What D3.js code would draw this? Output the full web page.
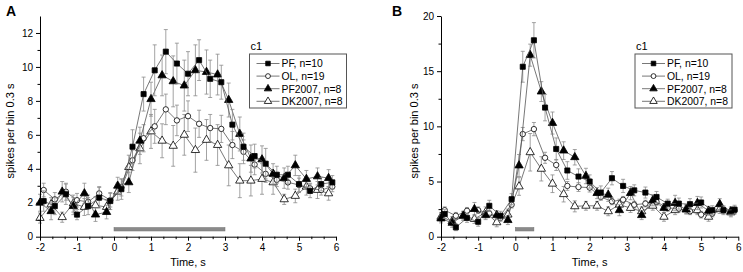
<!DOCTYPE html>
<html>
<head>
<meta charset="utf-8">
<script src="https://cdn.jsdelivr.net/npm/d3@7"></script>
<style>
  body { margin: 0; background: #fff; }
  svg { display: block; font-family: "Liberation Sans", Arial, sans-serif; }
</style>
</head>
<body>
<svg id="chart" width="743" height="272"></svg>
<script>
// ---------- data ----------
const seriesNames = ["PF, n=10", "OL, n=19", "PF2007, n=8", "DK2007, n=8"];
const timesSq  = [-1.9,-1.6,-1.3,-1.0,-0.7,-0.4,-0.1,0.2,0.5,0.8,1.1,1.4,1.7,2.0,2.3,2.6,2.9,3.2,3.5,3.8,4.1,4.4,4.7,5.0,5.3,5.6,5.9];
const timesTri = [-2.0,-1.7,-1.4,-1.1,-0.8,-0.5,-0.2,0.1,0.4,0.7,1.0,1.3,1.6,1.9,2.2,2.5,2.8,3.1,3.4,3.7,4.0,4.3,4.6,4.9,5.2,5.5,5.8];
const xTicks = [-2,-1,0,1,2,3,4,5,6];
const yTicksA = [0,2,4,6,8,10,12];
const yTicksB = [0,5,10,15,20];
const stimA = [0, 3];
const stimB = [0, 0.5];

// Panel A
const A_PF      = [2.1,1.8,2.5,1.3,1.8,2.3,2.1,2.8,5.3,8.4,9.8,10.9,10.2,9.6,10.4,9.3,9.1,6.6,5.3,4.75,4.3,3.65,3.65,3.1,2.7,3.1,3.2];
const A_PF_err  = [0.6,0.5,0.6,0.3,0.5,0.6,0.5,0.6,1.0,1.0,1.5,1.3,1.2,1.3,1.2,1.1,1.0,0.9,0.8,0.7,0.9,0.5,0.5,0.5,0.4,0.4,0.4];
const A_OL      = [2.75,2.2,2.65,2.15,2.05,2.55,2.15,2.9,4.5,5.8,6.5,7.5,6.85,7.1,6.65,6.4,6.35,5.4,5.0,4.25,3.7,3.35,3.2,3.05,2.85,2.75,2.95];
const A_OL_err  = [0.4,0.4,0.5,0.4,0.4,0.4,0.4,0.5,0.6,0.8,1.0,0.9,0.9,0.9,0.8,0.8,0.8,0.8,0.7,0.6,0.5,0.4,0.4,0.4,0.3,0.3,0.3];
const A_PF07    = [2.0,1.5,2.65,1.8,2.55,1.3,1.45,3.0,3.2,5.65,8.1,9.5,9.15,8.9,9.8,9.7,9.55,8.05,6.05,4.6,4.55,3.7,3.45,4.2,3.4,3.55,3.45];
const A_PF07_err= [0.5,0.5,0.6,0.5,0.6,0.4,0.4,0.5,0.6,0.8,1.0,1.2,1.5,1.5,1.5,1.3,1.2,1.0,1.0,0.8,0.8,0.6,0.6,0.6,0.5,0.5,0.5];
const A_DK07    = [1.1,1.9,1.15,1.95,1.75,1.85,1.75,2.65,4.1,5.2,6.2,5.65,5.35,6.0,5.1,5.7,5.4,4.2,3.3,3.3,3.4,3.2,2.2,2.4,2.95,2.75,2.55];
const A_DK07_err= [0.3,0.4,0.3,0.5,0.5,0.5,0.4,0.5,0.7,0.9,1.0,1.0,1.2,1.2,1.3,1.2,1.2,1.2,1.0,0.9,0.9,0.7,0.3,0.4,0.5,0.5,0.4];

// Panel B
const B_PF      = [2.05,0.85,1.7,1.35,2.8,1.9,3.4,15.4,17.8,11.7,7.95,6.0,5.45,5.0,4.0,5.3,4.6,4.2,4.0,3.6,3.0,3.0,2.95,3.1,2.4,2.4,2.45];
const B_PF_err  = [0.4,0.3,0.4,0.4,0.5,0.4,0.5,1.4,1.6,1.2,1.0,0.8,0.7,0.6,0.6,0.6,0.6,0.5,0.5,0.5,0.4,0.5,0.5,0.5,0.4,0.4,0.4];
const B_OL      = [2.4,1.9,2.35,2.4,2.1,1.7,2.9,9.3,9.75,7.15,6.5,4.6,4.5,4.45,3.6,3.2,3.35,2.9,3.0,3.15,2.6,2.55,2.3,2.0,2.1,2.4,2.4];
const B_OL_err  = [0.3,0.3,0.3,0.3,0.3,0.3,0.3,0.6,0.6,0.5,0.5,0.4,0.4,0.4,0.3,0.3,0.3,0.3,0.3,0.3,0.3,0.3,0.3,0.3,0.3,0.3,0.3];
const B_PF07    = [1.65,1.25,1.9,2.5,1.95,1.95,1.5,6.45,16.45,13.15,10.3,7.8,7.2,5.5,3.95,3.8,2.4,3.95,1.95,3.3,2.6,3.05,2.45,3.05,2.35,2.95,2.3];
const B_PF07_err= [0.4,0.4,0.4,0.6,0.4,0.4,0.4,1.0,1.0,0.9,1.0,0.8,0.7,0.7,0.5,0.6,0.5,0.6,0.4,0.5,0.4,0.7,0.4,0.6,0.4,0.5,0.4];
const B_DK07    = [1.8,1.4,1.9,1.6,2.2,1.3,2.0,4.55,7.65,6.15,4.8,3.85,2.75,2.8,2.8,2.3,2.9,2.6,2.3,2.8,1.8,2.4,2.5,2.4,1.8,2.5,2.2];
const B_DK07_err= [0.4,0.4,0.4,0.4,0.5,0.4,0.5,0.8,1.7,1.1,0.8,0.7,0.5,0.4,0.4,0.4,0.5,0.4,0.4,0.4,0.4,0.4,0.4,0.4,0.4,0.4,0.4];

// ---------- drawing ----------
const svg = d3.select("#chart");
const styles = [
  { sym: "square",   fill: "#000" },
  { sym: "circle",   fill: "#fff" },
  { sym: "triangle", fill: "#000" },
  { sym: "triangle", fill: "#fff" }
];
const hyphenFmt = d => String(d); // plain hyphen-minus, as in the reference

function marker(g, type, fill, x, y, scale) {
  const s = scale || 1;
  if (type === "circle") {
    g.append("circle").attr("cx", x).attr("cy", y).attr("r", 2.7 * s)
      .attr("fill", fill).attr("stroke", "#000").attr("stroke-width", 0.8);
  } else {
    const sym = type === "square" ? d3.symbolSquare : d3.symbolTriangle;
    const size = type === "square" ? 26 : 30;
    g.append("path").attr("d", d3.symbol().type(sym).size(size * s * s)())
      .attr("transform", `translate(${x},${y})`)
      .attr("fill", fill).attr("stroke", "#000").attr("stroke-width", 0.8);
  }
}

function panel(opt) {
  const g = svg.append("g");
  const x = d3.scaleLinear().domain([-2, 6]).range([opt.x0, opt.x1]);
  const y = d3.scaleLinear().domain([0, opt.ymax]).range([236.7, 16]);

  // stimulus bar
  g.append("rect").attr("x", x(opt.stim[0])).attr("y", 227.5)
    .attr("width", x(opt.stim[1]) - x(opt.stim[0])).attr("height", 3.5)
    .attr("fill", "#8a8a8a").attr("stroke", "#707070").attr("stroke-width", 0.5);

  // series
  const order = [3, 1, 2, 0];
  order.forEach(k => {
    const s = opt.series[k];
    const st = styles[k];
    const pts = s.t.map((t, i) => ({ t, v: s.v[i], e: s.e[i] }));
    const sg = g.append("g");
    pts.forEach(p => {
      const cx = x(p.t);
      const yt = y(p.v + p.e), yb = y(Math.max(0, p.v - p.e));
      sg.append("line").attr("x1", cx).attr("x2", cx).attr("y1", yt).attr("y2", yb)
        .attr("stroke", "#8c8c8c").attr("stroke-width", 0.8);
      [yt, yb].forEach(yy => sg.append("line").attr("x1", cx - 2).attr("x2", cx + 2)
        .attr("y1", yy).attr("y2", yy).attr("stroke", "#8c8c8c").attr("stroke-width", 0.8));
    });
    sg.append("path").datum(pts)
      .attr("d", d3.line().x(p => x(p.t)).y(p => y(p.v)))
      .attr("fill", "none").attr("stroke", "#555").attr("stroke-width", 0.8);
    pts.forEach(p => marker(sg, st.sym, st.fill, x(p.t), y(p.v)));
  });

  // axes
  g.append("g").attr("transform", "translate(0,236.7)")
    .call(d3.axisBottom(x).tickValues(xTicks).tickSize(4).tickSizeOuter(0).tickPadding(3)
      .tickFormat(hyphenFmt));
  const minorX = [];
  xTicks.slice(0, -1).forEach(t => { minorX.push(t + 1/3, t + 2/3); });
  g.append("g").attr("transform", "translate(0,236.7)")
    .call(d3.axisBottom(x).tickValues(minorX).tickSize(2.5).tickFormat(""))
    .call(a => a.select(".domain").remove());

  g.append("g").attr("transform", `translate(${opt.x0},0)`)
    .call(d3.axisLeft(y).tickValues(opt.yTicks).tickSize(4).tickSizeOuter(0).tickPadding(3)
      .tickFormat(hyphenFmt));
  const minorY = opt.yTicks.slice(0, -1).map((t, i) => (t + opt.yTicks[i + 1]) / 2);
  g.append("g").attr("transform", `translate(${opt.x0},0)`)
    .call(d3.axisLeft(y).tickValues(minorY).tickSize(2.5).tickFormat(""))
    .call(a => a.select(".domain").remove());

  g.selectAll(".tick text").attr("font-size", 10).attr("font-family", "Liberation Sans, Arial, sans-serif").attr("fill", "#000");
  g.selectAll(".domain, .tick line").attr("stroke", "#000").attr("stroke-width", 1);

  // titles
  g.append("text").attr("x", (opt.x0 + opt.x1) / 2).attr("y", 266)
    .attr("text-anchor", "middle").attr("font-size", 11).text("Time, s");
  g.append("text").attr("transform", `translate(${opt.ylabX},131) rotate(-90)`)
    .attr("text-anchor", "middle").attr("font-size", 11).text("spikes per bin 0.3 s");
  g.append("text").attr("x", opt.labX).attr("y", 16).attr("font-size", 14)
    .attr("font-weight", "bold").text(opt.label);

  // legend
  const lx = opt.legX;
  g.append("text").attr("x", lx + 1).attr("y", 50).attr("font-size", 11).text("c1");
  g.append("rect").attr("x", lx).attr("y", 54).attr("width", 97).attr("height", 54)
    .attr("fill", "#fff").attr("stroke", "#555").attr("stroke-width", 1);
  seriesNames.forEach((name, k) => {
    const yy = 63.5 + k * 12.6;
    g.append("line").attr("x1", lx + 7).attr("x2", lx + 30).attr("y1", yy).attr("y2", yy)
      .attr("stroke", "#555").attr("stroke-width", 0.8);
    marker(g, styles[k].sym, styles[k].fill, lx + 18.5, yy, 0.9);
    g.append("text").attr("x", lx + 32).attr("y", yy + 3.8).attr("font-size", 10.4).text(name);
  });
}

panel({
  x0: 40, x1: 336, ymax: 13, yTicks: yTicksA, stim: stimA, label: "A", labX: 6, ylabX: 14, legX: 249.5,
  series: [
    { t: timesSq,  v: A_PF,   e: A_PF_err },
    { t: timesSq,  v: A_OL,   e: A_OL_err },
    { t: timesTri, v: A_PF07, e: A_PF07_err },
    { t: timesTri, v: A_DK07, e: A_DK07_err }
  ]
});
panel({
  x0: 441, x1: 738.3, ymax: 20, yTicks: yTicksB, stim: stimB, label: "B", labX: 392, ylabX: 418, legX: 635,
  series: [
    { t: timesSq,  v: B_PF,   e: B_PF_err },
    { t: timesSq,  v: B_OL,   e: B_OL_err },
    { t: timesTri, v: B_PF07, e: B_PF07_err },
    { t: timesTri, v: B_DK07, e: B_DK07_err }
  ]
});
</script>
</body>
</html>
